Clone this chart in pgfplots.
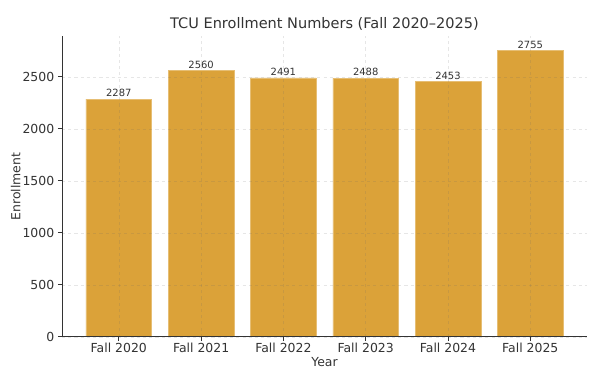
\documentclass[border=0pt]{standalone}
\usepackage{pgfplots}
\pgfplotsset{compat=1.18}
\usepackage{fontspec}
\setmainfont{DejaVu Sans}
\definecolor{barc}{HTML}{DBA239}
\definecolor{txt}{HTML}{333333}
\begin{document}
\begin{tikzpicture}
\begin{axis}[
  name=ax,
  scale only axis,
  width=506pt, height=290pt,
  xmin=-0.69, xmax=5.69,
  ymin=0, ymax=2892.75,
  xtick={0,1,2,3,4,5},
  xticklabels={Fall 2020,Fall 2021,Fall 2022,Fall 2023,Fall 2024,Fall 2025},
  ytick={0,500,1000,1500,2000,2500},
  /pgf/number format/assume math mode=true,
  /pgf/number format/1000 sep={},
  axis lines*=left,
  axis line style={draw=txt, line width=0.8pt},
  tick style={draw=txt, line width=0.8pt},
  tick align=outside,
  major tick length=4pt,
  grid=major,
  grid style={dashed, draw=black!60, draw opacity=0.16, line width=0.5pt},
  axis on top,
  ticklabel style={font=\fontsize{12}{14}\selectfont, text=txt},
  xticklabel style={yshift=2pt},
  title={TCU Enrollment Numbers (Fall 2020–2025)},
  title style={font=\fontsize{14}{16}\selectfont, text=txt, yshift=-4pt},
  xlabel={Year}, ylabel={Enrollment},
  label style={font=\fontsize{12}{14}\selectfont, text=txt},
  xlabel style={yshift=2pt},
  ylabel style={yshift=-5pt},
  enlargelimits=false,
]
\addplot[ybar, bar width=0.8, bar shift=0pt, fill=barc, draw=barc!70!white, line width=0.5pt,
  nodes near coords, every node near coord/.append style={font=\fontsize{9.6}{11}\selectfont, text=txt, yshift=-1.5pt}]
  coordinates {(0,2287) (1,2560) (2,2491) (3,2488) (4,2453) (5,2755)};
\end{axis}
\pgfresetboundingbox
\path[use as bounding box] ([xshift=-59.8pt,yshift=-38.6pt]ax.south west) rectangle ([xshift=12.5pt,yshift=34.7pt]ax.north east);
\end{tikzpicture}
\end{document}
